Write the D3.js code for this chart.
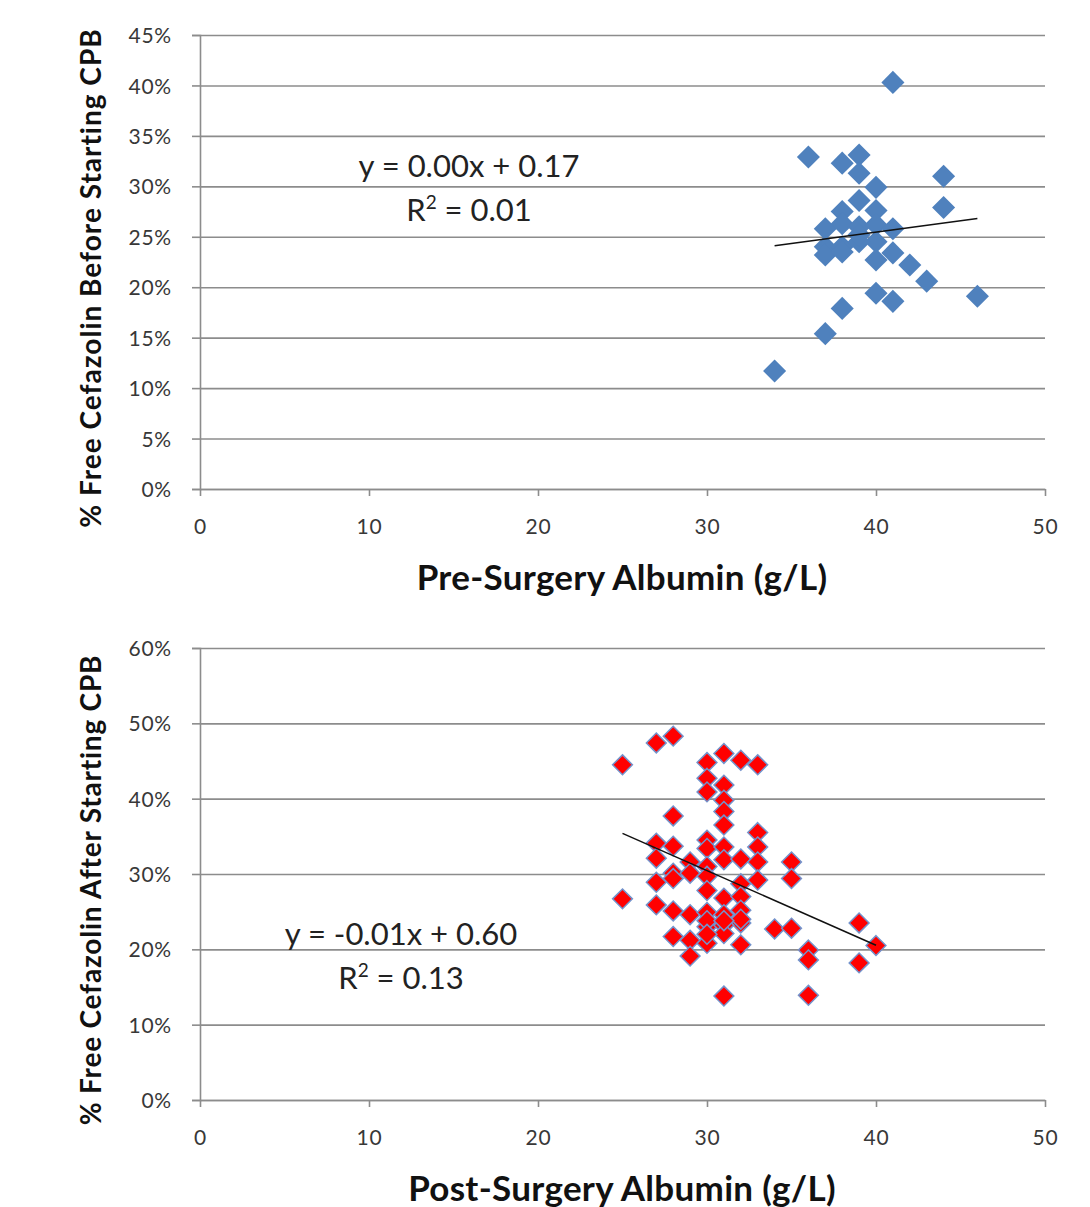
<!DOCTYPE html>
<html>
<head>
<meta charset="utf-8">
<style>
  body { margin: 0; background: #fff; }
  svg text { font-family: Lato, "Open Sans", sans-serif; }
</style>
</head>
<body>
<div id="container"></div>
<script src="https://cdn.jsdelivr.net/npm/d3@7"></script>
<script>

// pre-surgery albumin (g/L) vs free cefazolin fraction before CPB
const preAlbumin = [41, 36, 38, 39, 39, 40, 44, 44, 39, 38, 40, 37, 38, 39, 40, 41,
                    37, 38, 40, 37, 38, 40, 41, 42, 43, 40, 41, 46, 38, 37, 34, 39, 39];
const preFree    = [0.403, 0.329, 0.323, 0.331, 0.313, 0.299, 0.310, 0.279, 0.286, 0.275, 0.276, 0.258, 0.263, 0.260, 0.262, 0.258,
                    0.240, 0.240, 0.245, 0.232, 0.235, 0.227, 0.234, 0.222, 0.206, 0.194, 0.186, 0.191, 0.179, 0.154, 0.117, 0.245, 0.252];

// post-surgery albumin vs free cefazolin after CPB
const postAlbumin = [25, 27, 28, 30, 31, 32, 33, 30, 31, 30, 31, 31, 31, 28, 33, 27,
                     28, 30, 30, 31, 33, 27, 29, 31, 32, 33, 35, 28, 29, 30, 27, 28,
                     30, 33, 35, 32, 30, 25, 27, 31, 32, 28, 29, 30, 31, 32, 32, 30,
                     31, 31, 34, 35, 39, 28, 29, 30, 32, 40, 29, 36, 36, 39, 31, 36,
                     30, 30, 32, 31];
const postFree    = [0.445, 0.474, 0.483, 0.448, 0.460, 0.451, 0.445, 0.427, 0.418, 0.409, 0.398, 0.383, 0.365, 0.377, 0.355, 0.341,
                     0.337, 0.345, 0.334, 0.336, 0.336, 0.321, 0.316, 0.319, 0.320, 0.316, 0.316, 0.301, 0.301, 0.310, 0.289, 0.294,
                     0.297, 0.292, 0.294, 0.287, 0.278, 0.267, 0.259, 0.268, 0.270, 0.251, 0.246, 0.249, 0.246, 0.252, 0.235, 0.230,
                     0.232, 0.221, 0.227, 0.228, 0.235, 0.217, 0.212, 0.208, 0.206, 0.205, 0.191, 0.199, 0.186, 0.182, 0.138, 0.139,
                     0.238, 0.220, 0.240, 0.238];

// trend lines (slope per g/L, intercept)
const preTrend  = { slope: 0.00225, intercept: 0.1645, label: "y = 0.00x + 0.17", r2: "0.01" };
const postTrend = { slope: -0.0099, intercept: 0.6015, label: "y = -0.01x + 0.60", r2: "0.13" };

const width = 1090, height = 1207;

const svg = d3.create("svg")
    .attr("width", width)
    .attr("height", height);

function panel(opts) {
  const x = d3.scaleLinear().domain([0, 50]).range([200, 1045]);
  const y = d3.scaleLinear().domain([0, opts.ymax]).range([opts.y0, opts.y1]);
  const g = svg.append("g");

  // gridlines
  g.append("g")
      .attr("transform", `translate(200,0)`)
      .call(d3.axisLeft(y).ticks(opts.nticks).tickSize(-845).tickFormat(""))
      .call(s => s.select(".domain").remove())
      .call(s => s.selectAll("line").attr("stroke", "#8c8c8c").attr("stroke-width", 1.6));

  // y axis
  g.append("g")
      .attr("transform", `translate(200,0)`)
      .call(d3.axisLeft(y).ticks(opts.nticks).tickSize(8).tickPadding(20).tickFormat(d3.format(".0%")))
      .call(s => s.select(".domain").attr("stroke", "#8c8c8c").attr("stroke-width", 1.6))
      .call(s => s.selectAll("line").attr("stroke", "#8c8c8c").attr("stroke-width", 1.6))
      .call(s => s.selectAll("text").attr("font-family", "'DejaVu Sans', sans-serif")
                  .attr("font-size", 21).attr("letter-spacing", 0.8).attr("fill", "#383838").attr("dy", "0.36em"));

  // x axis
  g.append("g")
      .attr("transform", `translate(0,${opts.y0})`)
      .call(d3.axisBottom(x).ticks(5).tickSize(7).tickPadding(23).tickSizeOuter(0))
      .call(s => s.select(".domain").attr("stroke", "#8c8c8c").attr("stroke-width", 1.6))
      .call(s => s.selectAll("line").attr("stroke", "#8c8c8c").attr("stroke-width", 1.6))
      .call(s => s.selectAll("text").attr("font-family", "'DejaVu Sans', sans-serif")
                  .attr("font-size", 21).attr("letter-spacing", 0.8).attr("fill", "#383838"));

  // points
  const pts = d3.zip(opts.xs, opts.ys);
  g.selectAll("path.pt").data(pts).enter().append("path")
      .attr("class", "pt")
      .attr("d", d3.symbol(d3.symbolDiamond2, opts.size)())
      .attr("transform", d => `translate(${x(d[0])},${y(d[1])})`)
      .attr("fill", opts.fill)
      .attr("stroke", opts.stroke)
      .attr("stroke-width", opts.strokeWidth);

  // trend line across the data range
  const ext = d3.extent(opts.xs);
  g.append("line")
      .attr("x1", x(ext[0])).attr("y1", y(opts.trend.intercept + opts.trend.slope * ext[0]))
      .attr("x2", x(ext[1])).attr("y2", y(opts.trend.intercept + opts.trend.slope * ext[1]))
      .attr("stroke", "#111").attr("stroke-width", 1.5);

  // equation
  const eq = g.append("g").attr("transform", `translate(${opts.eqx},${opts.eqy})`)
      .attr("font-size", 31).attr("fill", "#222").attr("text-anchor", "middle");
  eq.append("text").text(opts.trend.label);
  const r = eq.append("text").attr("y", 44);
  r.append("tspan").text("R");
  r.append("tspan").attr("font-size", 19).attr("dy", -12).text("2");
  r.append("tspan").attr("dy", 12).text(" = " + opts.trend.r2);

  // axis titles
  g.append("text")
      .attr("x", 622).attr("y", opts.y0 + 101)
      .attr("text-anchor", "middle").attr("font-size", 35).attr("font-weight", "bold").attr("fill", "#111")
      .attr("letter-spacing", 0.3)
      .text(opts.xtitle);
  g.append("text")
      .attr("transform", `translate(101,${(opts.y0 + opts.y1) / 2 + 16}) rotate(-90)`)
      .attr("text-anchor", "middle").attr("font-size", 28).attr("font-weight", "bold").attr("fill", "#111")
      .attr("letter-spacing", opts.ytitleSpacing)
      .text(opts.ytitle);
}

panel({ xs: preAlbumin, ys: preFree, ymax: 0.45, nticks: 9, y0: 489, y1: 35,
        fill: "#4f81bd", stroke: "#4f81bd", strokeWidth: 0, size: 340,
        trend: preTrend, eqx: 469, eqy: 177,
        xtitle: "Pre-Surgery Albumin (g/L)",
        ytitle: "% Free Cefazolin Before Starting CPB", ytitleSpacing: 1 });

panel({ xs: postAlbumin, ys: postFree, ymax: 0.6, nticks: 6, y0: 1100, y1: 648,
        fill: "#ff0000", stroke: "#7393cc", strokeWidth: 1.5, size: 250,
        trend: postTrend, eqx: 401, eqy: 945,
        xtitle: "Post-Surgery Albumin (g/L)",
        ytitle: "% Free Cefazolin After Starting CPB", ytitleSpacing: 0.8 });

container.append(svg.node());
</script>
</body>
</html>
